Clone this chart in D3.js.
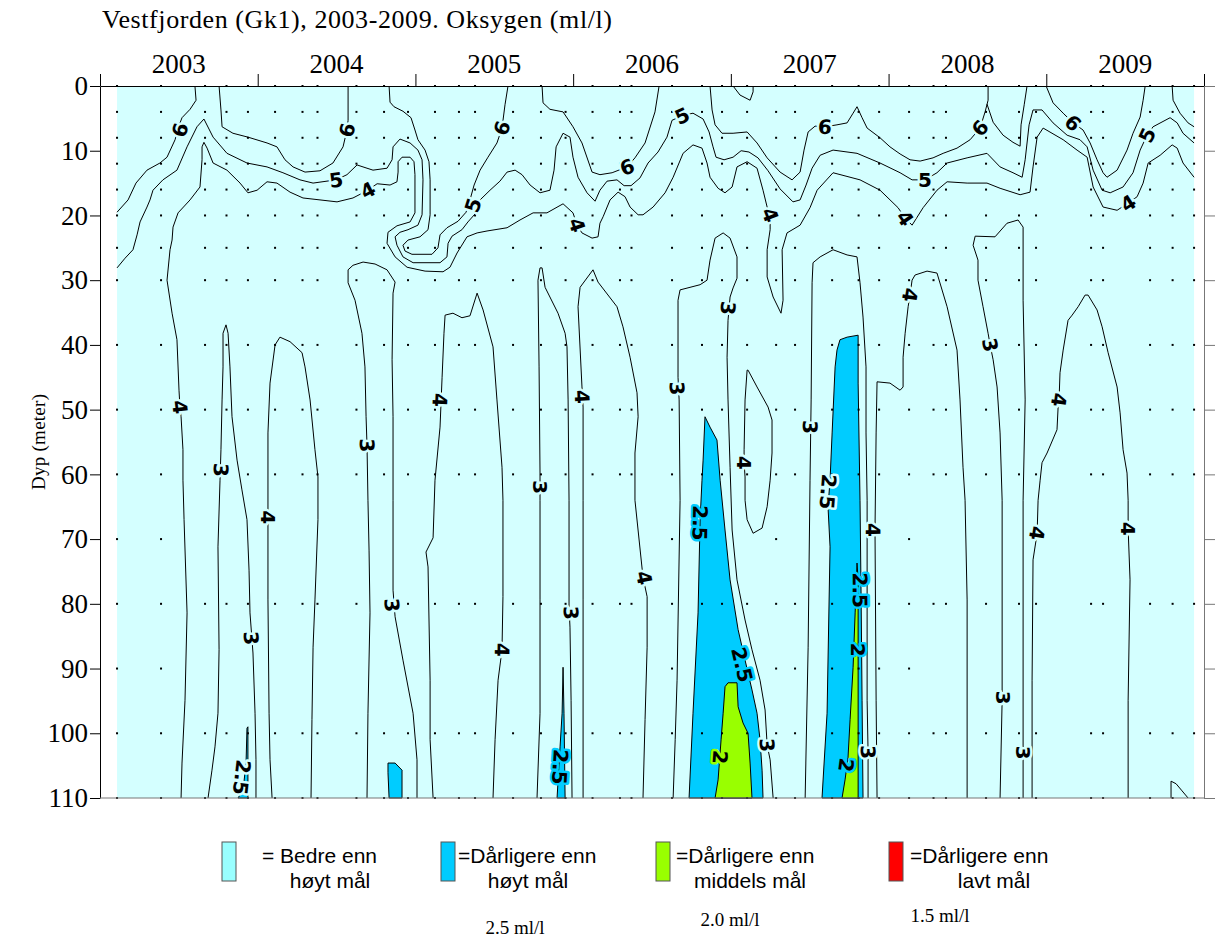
<!DOCTYPE html>
<html><head><meta charset="utf-8">
<script src="https://cdn.jsdelivr.net/npm/d3@7"></script>
<style>body{margin:0;background:#fff}</style>
</head><body>
<svg id="chart" width="1215" height="940"></svg>
<script>
// ---------------- DATA ----------------
const title = "Vestfjorden (Gk1), 2003-2009. Oksygen (ml/l)";
const yAxisTitle = "Dyp (meter)";
const yearLabels = [2003, 2004, 2005, 2006, 2007, 2008, 2009];
const yearBounds = [2003, 2004, 2005, 2006, 2007, 2008, 2009, 2010];
const depthTicks = [0, 10, 20, 30, 40, 50, 60, 70, 80, 90, 100, 110];

// sampling dates (decimal year) and depths (m)
const sampleDates = [2003.108, 2003.387, 2003.666, 2003.802, 2003.938, 2004.110, 2004.284, 2004.379,
  2004.626, 2004.801, 2004.953, 2005.124, 2005.276, 2005.378, 2005.619, 2005.796, 2005.952,
  2006.123, 2006.297, 2006.370, 2006.627, 2006.817, 2006.944, 2007.103, 2007.287, 2007.407,
  2007.642, 2007.810, 2007.940, 2008.130, 2008.285, 2008.364, 2008.618, 2008.827, 2008.935,
  2009.284, 2009.360, 2009.658, 2009.801, 2009.937];
const sampleDepths = [0, 4, 8, 12, 16, 20, 25, 30, 40, 50, 60, 80, 100, 110];
const datesWith70m = [2003.108, 2003.387, 2006.627, 2007.287, 2008.130];
const datesWith90m = [2003.108, 2003.387, 2006.627, 2007.287, 2007.407, 2007.642, 2007.810, 2007.940, 2008.130];

// isolines [year, depth]
const contour6 = [
  [[2003.602,0],[2003.609,2.2],[2003.571,3.6],[2003.520,4.9],[2003.495,6.5],[2003.476,8.3],[2003.425,11.0],[2003.380,11.9],[2003.298,13.0],[2003.228,15.0],[2003.178,17.6],[2003.108,19.5]],
  [[2003.755,0],[2003.767,3.7],[2003.774,6.3],[2003.843,7.3],[2003.938,7.9],[2004.059,8.8],[2004.122,9.4],[2004.173,11.4],[2004.224,12.5],[2004.300,13.3],[2004.395,13.1],[2004.477,11.9],[2004.541,9.4],[2004.566,6.8],[2004.573,5.3],[2004.573,0]],
  [[2004.833,0],[2004.839,2.5],[2004.864,3.2],[2004.921,3.9],[2004.972,4.9],[2004.997,6.8],[2005.016,8.3],[2005.061,9.9],[2005.086,11.7],[2005.093,14.5],[2005.093,19.9],[2005.080,22.2],[2005.029,23.3],[2004.953,23.8],[2004.921,24.6],[2004.934,25.5],[2004.978,26.0],[2005.105,26.0],[2005.143,25.0],[2005.156,23.0],[2005.200,21.9],[2005.270,20.9],[2005.321,19.5],[2005.346,17.6],[2005.372,15.3],[2005.410,13.0],[2005.460,11.0],[2005.517,8.8],[2005.549,6.5],[2005.568,2.9],[2005.587,0]],
  [[2005.803,0],[2005.809,2.6],[2005.853,3.6],[2005.936,4.0],[2005.999,6.3],[2006.056,8.8],[2006.120,13.3],[2006.170,13.7],[2006.247,13.4],[2006.342,12.5],[2006.392,11.1],[2006.456,8.8],[2006.519,4.0],[2006.545,0]],
  [[2007.014,0],[2007.058,1.4],[2007.122,2.2],[2007.141,0.9],[2007.141,0]],
  [[2006.868,0],[2006.881,3.7],[2006.900,6.0],[2006.944,7.3],[2007.014,7.3],[2007.103,7.1],[2007.166,8.8],[2007.230,11.1],[2007.312,13.3],[2007.388,14.5],[2007.439,13.3],[2007.464,9.9],[2007.490,7.1],[2007.534,6.2],[2007.597,6.3],[2007.673,6.0],[2007.737,5.7],[2007.775,4.2],[2007.800,3.2],[2007.832,4.9],[2007.864,6.5],[2007.946,8.0],[2008.009,9.4],[2008.073,10.5],[2008.136,11.4],[2008.200,11.6],[2008.282,11.1],[2008.346,10.4],[2008.434,9.6],[2008.517,8.3],[2008.580,6.5],[2008.612,4.0],[2008.631,2.2],[2008.631,0]],
  [[2008.624,2.8],[2008.663,5.6],[2008.726,7.6],[2008.789,8.7],[2008.834,9.3],[2008.840,6.0],[2008.860,2.9],[2008.878,0]],
  [[2008.999,0],[2009.043,2.6],[2009.107,4.2],[2009.170,5.7],[2009.233,6.8],[2009.278,8.8],[2009.322,11.4],[2009.360,13.4],[2009.385,14.1],[2009.449,13.0],[2009.512,9.9],[2009.550,7.3],[2009.595,4.8],[2009.614,2.2],[2009.627,0]],
  [[2009.798,0],[2009.804,2.2],[2009.848,4.2],[2009.899,5.7],[2009.937,6.3]]
];
const contour5 = [
  [[2003.108,28.1],[2003.159,26.6],[2003.209,25.3],[2003.235,23.0],[2003.254,21.0],[2003.298,18.7],[2003.317,17.6],[2003.336,16.1],[2003.399,14.5],[2003.488,13.0],[2003.552,9.4],[2003.615,6.3],[2003.659,5.1],[2003.717,7.9],[2003.805,10.4],[2003.932,11.9],[2004.059,12.5],[2004.160,13.4],[2004.268,14.5],[2004.351,15.0],[2004.497,14.5],[2004.566,13.7],[2004.630,12.2],[2004.693,12.7],[2004.731,13.0],[2004.820,12.7],[2004.852,11.4],[2004.858,9.4],[2004.902,8.2],[2004.966,8.8],[2005.016,9.9],[2005.042,11.4],[2005.048,14.5],[2005.042,19.9],[2005.016,21.5],[2004.953,22.2],[2004.902,22.6],[2004.871,23.3],[2004.883,24.6],[2004.921,26.4],[2004.985,27.3],[2005.156,27.3],[2005.200,26.4],[2005.207,24.3],[2005.232,23.2],[2005.295,22.2],[2005.333,21.0],[2005.384,19.6],[2005.410,17.6],[2005.473,16.1],[2005.536,14.7],[2005.581,13.3],[2005.632,13.0],[2005.676,13.7],[2005.727,15.3],[2005.790,16.5],[2005.853,16.1],[2005.879,13.0],[2005.892,9.4],[2005.936,7.3],[2005.980,7.9],[2005.999,11.0],[2006.031,14.1],[2006.088,16.5],[2006.139,17.8],[2006.170,16.1],[2006.215,14.7],[2006.278,14.5],[2006.323,15.4],[2006.367,15.4],[2006.424,14.2],[2006.475,11.9],[2006.538,10.2],[2006.595,7.9],[2006.627,5.3],[2006.691,4.6],[2006.760,4.2],[2006.824,5.1],[2006.862,7.1],[2006.887,9.4],[2006.906,11.0],[2006.957,11.4],[2007.014,11.0],[2007.065,10.0],[2007.115,10.2],[2007.172,11.1],[2007.236,13.1],[2007.312,15.9],[2007.394,17.9],[2007.439,17.6],[2007.477,15.3],[2007.515,12.7],[2007.566,10.7],[2007.648,9.9],[2007.800,10.4],[2007.946,11.9],[2008.073,13.4],[2008.149,14.5],[2008.231,14.5],[2008.307,13.4],[2008.371,11.9],[2008.498,11.1],[2008.624,10.4],[2008.707,12.5],[2008.789,13.4],[2008.847,14.1],[2008.866,11.4],[2008.891,6.0],[2008.916,3.7],[2008.973,3.7],[2009.043,5.7],[2009.132,7.6],[2009.214,8.3],[2009.259,9.4],[2009.297,13.0],[2009.354,16.1],[2009.405,16.5],[2009.487,15.6],[2009.550,13.4],[2009.595,9.9],[2009.639,7.6],[2009.677,6.3],[2009.785,4.9],[2009.830,5.7],[2009.867,7.3],[2009.937,8.8]]
];
const contour4 = [
  [[2003.514,110],[2003.520,104.6],[2003.539,94.9],[2003.552,81.4],[2003.533,67.0],[2003.526,60.9],[2003.526,56.2],[2003.514,51.1],[2003.507,49.6],[2003.501,47.0],[2003.488,39.2],[2003.457,35.1],[2003.425,30.0],[2003.444,25.3],[2003.457,23.8],[2003.463,21.8],[2003.495,19.6],[2003.571,17.6],[2003.634,15.6],[2003.647,11.4],[2003.647,9.4],[2003.659,8.7],[2003.679,9.6],[2003.717,11.9],[2003.805,13.0],[2003.888,15.0],[2003.938,16.5],[2003.996,16.1],[2004.059,14.8],[2004.122,15.0],[2004.205,16.4],[2004.287,17.3],[2004.395,17.6],[2004.503,17.9],[2004.604,17.3],[2004.699,16.1],[2004.757,15.1],[2004.839,15.3],[2004.883,14.8],[2004.890,13.3],[2004.890,11.7],[2004.915,11.0],[2004.966,11.0],[2004.991,11.7],[2004.997,13.7],[2004.997,19.6],[2004.966,21.0],[2004.883,21.6],[2004.826,22.6],[2004.820,24.3],[2004.871,26.4],[2004.947,28.0],[2005.061,28.6],[2005.175,28.7],[2005.219,28.0],[2005.264,25.8],[2005.327,23.3],[2005.391,22.7],[2005.454,22.4],[2005.581,21.9],[2005.663,20.7],[2005.746,19.6],[2005.834,19.6],[2005.936,18.2],[2005.999,19.6],[2006.025,21.5],[2006.056,22.7],[2006.120,23.5],[2006.158,23.3],[2006.170,21.2],[2006.190,20.2],[2006.234,17.6],[2006.285,16.4],[2006.329,17.1],[2006.361,18.7],[2006.412,19.9],[2006.443,19.9],[2006.507,18.7],[2006.583,16.5],[2006.634,14.1],[2006.697,10.4],[2006.760,9.1],[2006.817,9.6],[2006.849,11.9],[2006.868,14.1],[2006.919,15.8],[2006.963,16.5],[2007.008,15.6],[2007.039,12.5],[2007.103,11.7],[2007.166,12.7],[2007.204,16.1],[2007.230,18.7],[2007.249,19.9],[2007.249,22.2],[2007.230,25.3],[2007.230,29.5],[2007.268,32.6],[2007.318,35.1],[2007.331,33.1],[2007.325,25.3],[2007.356,22.7],[2007.439,21.5],[2007.502,18.8],[2007.547,16.1],[2007.648,13.4],[2007.819,14.5],[2007.946,16.1],[2008.060,18.8],[2008.105,20.4],[2008.149,21.5],[2008.219,18.8],[2008.307,16.1],[2008.371,14.8],[2008.498,15.0],[2008.624,15.0],[2008.707,15.8],[2008.834,16.8],[2008.897,16.4],[2008.916,12.5],[2008.942,7.9],[2008.980,6.5],[2009.107,8.3],[2009.195,9.9],[2009.259,11.0],[2009.297,15.6],[2009.360,18.7],[2009.449,19.2],[2009.519,18.1],[2009.576,17.1],[2009.614,15.0],[2009.646,11.9],[2009.722,10.7],[2009.798,9.1],[2009.830,9.6],[2009.867,11.9],[2009.937,14.1]],
  [[2004.091,110],[2004.078,104.1],[2004.072,96.9],[2004.065,79.4],[2004.065,66.6],[2004.065,53.6],[2004.078,45.9],[2004.110,40.0],[2004.141,38.8],[2004.205,39.5],[2004.281,41.2],[2004.300,43.4],[2004.332,48.5],[2004.363,56.2],[2004.382,60.4],[2004.382,67.0],[2004.363,79.4],[2004.351,86.7],[2004.344,97.9],[2004.338,110]],
  [[2005.112,110],[2005.093,101.0],[2005.093,91.8],[2005.080,74.3],[2005.067,72.0],[2005.112,69.8],[2005.124,60.9],[2005.156,52.7],[2005.169,45.0],[2005.181,38.2],[2005.188,35.4],[2005.238,35.1],[2005.295,35.8],[2005.346,35.5],[2005.391,32.0],[2005.429,34.6],[2005.492,40.3],[2005.517,48.5],[2005.549,58.9],[2005.555,64.0],[2005.555,78.9],[2005.549,87.1],[2005.524,91.8],[2005.505,101.0],[2005.492,110]],
  [[2006.063,110],[2006.063,79.4],[2006.063,64.0],[2006.063,49.6],[2006.056,46.5],[2006.031,34.1],[2006.044,31.1],[2006.126,28.4],[2006.158,30.3],[2006.278,34.1],[2006.316,37.2],[2006.361,41.9],[2006.405,47.4],[2006.412,51.1],[2006.392,56.7],[2006.392,64.0],[2006.443,75.9],[2006.469,78.9],[2006.469,86.7],[2006.456,97.9],[2006.443,110]],
  [[2007.103,43.9],[2007.090,48.5],[2007.084,56.2],[2007.084,58.2],[2007.090,60.4],[2007.090,64.0],[2007.103,67.0],[2007.141,69.1],[2007.198,68.3],[2007.230,65.0],[2007.249,60.9],[2007.261,56.7],[2007.261,51.6],[2007.236,49.6],[2007.166,46.5],[2007.109,43.9],[2007.103,43.9]],
  [[2007.927,110],[2007.921,94.9],[2007.914,68.6],[2007.921,53.6],[2007.927,45.7],[2008.009,45.9],[2008.073,47.0],[2008.092,46.5],[2008.092,41.9],[2008.105,38.2],[2008.124,34.1],[2008.136,32.3],[2008.149,30.0],[2008.168,29.2],[2008.244,28.6],[2008.307,28.9],[2008.371,34.1],[2008.434,40.8],[2008.453,48.5],[2008.472,58.9],[2008.485,64.0],[2008.498,79.4],[2008.498,110]],
  [[2008.910,110],[2008.910,91.8],[2008.916,73.2],[2008.942,69.1],[2008.948,64.0],[2008.961,60.9],[2008.973,58.2],[2009.005,56.7],[2009.068,53.1],[2009.075,49.6],[2009.081,48.5],[2009.087,44.3],[2009.107,40.8],[2009.138,36.2],[2009.164,35.4],[2009.202,34.1],[2009.246,32.3],[2009.265,32.3],[2009.322,34.6],[2009.354,37.2],[2009.392,41.2],[2009.449,46.5],[2009.468,50.5],[2009.487,56.2],[2009.512,59.8],[2009.519,64.0],[2009.519,68.4],[2009.531,76.3],[2009.519,94.9],[2009.519,110]],
  [[2009.791,110],[2009.791,107.4],[2009.823,107.8],[2009.861,108.9],[2009.899,110]]
];
const contour3 = [
  [[2003.685,110],[2003.710,105.7],[2003.729,102.1],[2003.748,96.9],[2003.755,87.1],[2003.748,71.2],[2003.761,60.9],[2003.767,56.2],[2003.774,48.5],[2003.780,43.4],[2003.780,38.2],[2003.799,36.9],[2003.812,38.2],[2003.824,43.4],[2003.837,51.1],[2003.869,57.8],[2003.900,62.4],[2003.932,67.0],[2003.945,74.8],[2003.951,81.4],[2003.970,87.6],[2003.983,96.9],[2003.989,104.1],[2003.989,110]],
  [[2004.693,110],[2004.699,96.9],[2004.712,81.4],[2004.706,71.7],[2004.699,64.0],[2004.693,55.5],[2004.687,51.1],[2004.680,43.4],[2004.661,38.2],[2004.617,33.1],[2004.573,30.4],[2004.573,28.4],[2004.604,27.7],[2004.668,27.2],[2004.744,27.5],[2004.820,28.4],[2004.871,30.3],[2004.858,32.0],[2004.852,42.3],[2004.858,51.1],[2004.858,64.0],[2004.858,77.9],[2004.871,82.0],[2004.921,88.7],[2004.985,96.9],[2005.010,104.1],[2005.010,110]],
  [[2005.771,110],[2005.790,96.9],[2005.790,79.4],[2005.790,64.0],[2005.790,59.8],[2005.784,43.4],[2005.777,30.0],[2005.790,28.1],[2005.803,28.1],[2005.822,31.1],[2005.904,35.1],[2005.949,38.2],[2005.961,40.3],[2005.968,48.5],[2005.974,64.0],[2005.974,80.5],[2005.980,83.6],[2005.987,94.9],[2005.993,110]],
  [[2006.634,110],[2006.647,101.0],[2006.659,91.8],[2006.678,64.0],[2006.672,48.5],[2006.665,45.0],[2006.665,33.1],[2006.678,31.5],[2006.805,30.7],[2006.849,30.0],[2006.868,26.9],[2006.900,23.5],[2006.951,22.7],[2006.995,23.5],[2007.039,26.4],[2007.039,29.7],[2007.014,31.2],[2006.995,32.6],[2006.982,36.2],[2006.976,41.9],[2006.982,48.5],[2006.995,58.9],[2007.008,68.6],[2007.039,76.3],[2007.090,82.5],[2007.134,87.1],[2007.185,91.8],[2007.217,96.4],[2007.230,101.8],[2007.249,104.1],[2007.268,110]],
  [[2007.471,110],[2007.490,86.7],[2007.502,60.9],[2007.509,48.5],[2007.515,30.4],[2007.521,27.3],[2007.566,26.4],[2007.648,25.3],[2007.737,26.1],[2007.800,26.4],[2007.819,30.4],[2007.838,35.7],[2007.857,43.4],[2007.857,53.6],[2007.864,64.0],[2007.864,94.9],[2007.870,102.9],[2007.870,110]],
  [[2008.707,110],[2008.720,94.9],[2008.720,64.0],[2008.707,53.6],[2008.688,46.5],[2008.663,42.3],[2008.644,40.0],[2008.631,38.2],[2008.599,34.1],[2008.567,30.0],[2008.567,26.9],[2008.536,24.6],[2008.549,23.2],[2008.675,23.3],[2008.751,21.2],[2008.821,20.7],[2008.853,21.8],[2008.853,33.1],[2008.866,48.5],[2008.853,64.0],[2008.853,103.0],[2008.853,110]]
];
// areas below 2.5 ml/l and below 2.0 ml/l
const below25 = [
  [[2003.932,99.2],[2003.938,99.0],[2003.938,110],[2003.875,110],[2003.907,108.8],[2003.926,104.6]],
  [[2004.826,104.6],[2004.871,104.6],[2004.915,105.7],[2004.915,110],[2004.833,110],[2004.826,106.1]],
  [[2005.936,89.8],[2005.942,96.9],[2005.949,110],[2005.898,110],[2005.917,102.1],[2005.930,96.9]],
  [[2006.836,51.1],[2006.868,52.7],[2006.912,54.7],[2006.932,60.9],[2006.963,68.6],[2006.995,76.3],[2007.046,84.0],[2007.090,88.7],[2007.134,93.3],[2007.166,96.9],[2007.185,101.0],[2007.198,105.7],[2007.204,110],[2006.735,110],[2006.760,96.9],[2006.792,81.4],[2006.805,67.0],[2006.817,60.9],[2006.824,57.8]],
  [[2007.692,39.2],[2007.737,38.8],[2007.807,38.5],[2007.807,45.9],[2007.819,64.0],[2007.826,79.4],[2007.832,94.9],[2007.838,110],[2007.578,110],[2007.610,96.9],[2007.629,71.2],[2007.616,65.0],[2007.629,60.9],[2007.642,53.6],[2007.661,43.4],[2007.673,40.8]]
];
const below20 = [
  [[2006.963,92.8],[2006.982,92.2],[2007.039,92.2],[2007.046,95.9],[2007.077,98.4],[2007.109,100.0],[2007.122,104.6],[2007.134,110],[2006.900,110],[2006.919,107.2],[2006.938,101.0],[2006.951,96.9]],
  [[2007.800,73.7],[2007.807,76.3],[2007.807,110],[2007.705,110],[2007.724,107.2],[2007.743,103.7],[2007.756,97.9],[2007.775,89.8],[2007.788,81.4]]
];
// contour labels [text, year, depth]
const contourLabels = [
  ["6",2003.507,6.8],["6",2004.566,6.8],["6",2005.549,6.5],["6",2006.342,12.5],["6",2007.597,6.3],["6",2008.580,6.5],["6",2009.170,5.7],
  ["5",2004.497,14.5],["5",2005.365,18.4],["5",2006.691,4.6],["5",2008.231,14.5],["5",2009.639,7.6],
  ["4",2004.699,16.1],["4",2006.025,21.5],["4",2007.249,19.9],["4",2008.105,20.4],["4",2009.519,18.1],
  ["4",2003.507,49.6],["4",2004.065,66.6],["4",2005.156,48.5],["4",2005.549,87.1],["4",2006.056,48.0],
  ["4",2006.450,76.0],["4",2007.084,58.2],["4",2007.902,68.6],["4",2008.136,32.3],["4",2008.942,69.1],
  ["4",2009.081,48.5],["4",2009.519,68.4],
  ["3",2003.767,59.3],["3",2003.958,85.3],["3",2004.693,55.5],["3",2004.852,80.2],["3",2005.790,62.0],
  ["3",2005.987,81.4],["3",2006.659,46.7],["3",2006.982,34.3],["3",2007.230,101.8],["3",2007.502,52.7],
  ["3",2007.870,102.9],["3",2008.644,40.0],["3",2008.726,94.5],["3",2008.853,103.0],
  ["2.5",2003.900,106.8],["2.5",2005.917,105.2],["2.5",2006.805,67.5],["2.5",2007.071,89.4],["2.5",2007.616,62.7],["2.5",2007.819,77.9],
  ["2",2006.932,103.7],["2",2007.807,87.1],["2",2007.731,104.9]
];
// legend
const legendColors = ["#99ffff", "#00ccff", "#99ff00", "#ff0000"];
const legendLine1 = ["= Bedre enn", "=Dårligere enn", "=Dårligere enn", "=Dårligere enn"];
const legendLine2 = ["høyt mål", "høyt mål", "middels mål", "lavt mål"];
const legendLimits = ["", "2.5 ml/l", "2.0 ml/l", "1.5 ml/l"];

// ---------------- DRAW ----------------
const svg = d3.select("#chart");
const serif = "'Liberation Serif','Times New Roman',serif";
const sans = "'Liberation Sans',Arial,sans-serif";
const x = d3.scaleLinear().domain([2003, 2010]).range([100, 1204]);
const y = d3.scaleLinear().domain([0, 110]).range([86, 798]);
const line = d3.line().x(d => x(d[0])).y(d => y(d[1]));
const cyan = "#d4ffff", blue = "#00ccff", green = "#99ff00";

svg.append("text").attr("x", 102).attr("y", 28).attr("font-family", serif)
  .attr("font-size", 26).attr("textLength", 510).text(title);

// background field (sampled period)
svg.append("rect")
  .attr("x", x(sampleDates[0])).attr("y", y(0))
  .attr("width", x(sampleDates[sampleDates.length - 1]) - x(sampleDates[0]))
  .attr("height", y(110) - y(0)).attr("fill", cyan);

// filled areas
svg.append("g").selectAll("path").data(below25).join("path")
  .attr("d", d => line(d) + "Z").attr("fill", blue).attr("stroke", "#000").attr("stroke-width", 1);
svg.append("g").selectAll("path").data(below20).join("path")
  .attr("d", d => line(d) + "Z").attr("fill", green).attr("stroke", "#000").attr("stroke-width", 1);

// sample dots
const dots = [];
sampleDates.forEach(t => {
  let ds = sampleDepths.slice();
  if (datesWith70m.includes(t)) ds.push(70);
  if (datesWith90m.includes(t)) ds.push(90);
  ds.forEach(d => dots.push([t, d]));
});
svg.append("g").selectAll("rect").data(dots).join("rect")
  .attr("x", d => x(d[0]) - 1).attr("y", d => y(d[1]) - 1)
  .attr("width", 2).attr("height", 2).attr("fill", "#000");

// contour lines
const allLines = [].concat(contour6, contour5, contour4, contour3);
svg.append("g").selectAll("path").data(allLines).join("path")
  .attr("d", line).attr("fill", "none").attr("stroke", "#000").attr("stroke-width", 1)
  .attr("stroke-linejoin", "round");

// axes
const gTop = svg.append("g").attr("transform", `translate(0,${y(0)})`)
  .call(d3.axisTop(x).tickValues(yearBounds).tickSize(12).tickSizeOuter(0).tickFormat(""));
gTop.selectAll("path,line").attr("stroke", "#000");
svg.append("g").selectAll("text").data(yearLabels).join("text")
  .attr("x", d => x(d + 0.5)).attr("y", 73).attr("text-anchor", "middle")
  .attr("font-family", serif).attr("font-size", 27).text(d => d);

const gLeft = svg.append("g").attr("transform", `translate(${x(2003)},0)`)
  .call(d3.axisLeft(y).tickValues(depthTicks).tickSize(10).tickSizeOuter(0).tickPadding(2));
gLeft.selectAll("text").attr("font-family", serif).attr("font-size", 27).attr("fill", "#000");
gLeft.selectAll("path,line").attr("stroke", "#000");

const gRight = svg.append("g").attr("transform", `translate(${x(2010)},0)`)
  .call(d3.axisRight(y).tickValues(depthTicks).tickSize(11).tickSizeOuter(0).tickFormat(""));
gRight.selectAll("path,line").attr("stroke", "#777");

svg.append("line").attr("x1", x(2003)).attr("x2", x(2010)).attr("y1", y(110)).attr("y2", y(110))
  .attr("stroke", "#777");

svg.append("text").attr("transform", `translate(45,${(y(0) + y(110)) / 2}) rotate(-90)`)
  .attr("text-anchor", "middle").attr("font-family", serif).attr("font-size", 19)
  .attr("textLength", 96).text(yAxisTitle);

// contour labels, oriented along nearest line segment
const segs = [];
allLines.concat(below25, below20).forEach(pts => {
  const s = pts.map(p => [x(p[0]), y(p[1])]);
  for (let i = 0; i < s.length - 1; i++) segs.push([s[i], s[i + 1]]);
});
function segDist(p, a, b) {
  const dx = b[0] - a[0], dy = b[1] - a[1];
  const L = dx * dx + dy * dy || 1;
  let t = ((p[0] - a[0]) * dx + (p[1] - a[1]) * dy) / L;
  t = Math.max(0, Math.min(1, t));
  return Math.hypot(p[0] - (a[0] + t * dx), p[1] - (a[1] + t * dy));
}
function angleAt(p) {
  let best = null, bd = 1e9;
  segs.forEach(s => { const d = segDist(p, s[0], s[1]); if (d < bd) { bd = d; best = s; } });
  let a = Math.atan2(best[1][1] - best[0][1], best[1][0] - best[0][0]) * 180 / Math.PI;
  while (a > 100) a -= 180;
  while (a <= -80) a += 180;
  return a;
}
const polys20 = below20.map(p => p.map(q => [x(q[0]), y(q[1])]));
const polys25 = below25.map(p => p.map(q => [x(q[0]), y(q[1])]));
function bgAt(p) {
  if (polys20.some(pl => d3.polygonContains(pl, p))) return green;
  if (polys25.some(pl => d3.polygonContains(pl, p))) return blue;
  return cyan;
}
svg.append("g").selectAll("text").data(contourLabels).join("text")
  .attr("transform", d => {
    const p = [x(d[1]), y(d[2])];
    return `translate(${p[0]},${p[1]}) rotate(${angleAt(p)})`;
  })
  .attr("text-anchor", "middle").attr("dy", "0.36em")
  .attr("font-family", "'DejaVu Sans',sans-serif").attr("font-size", 20).attr("font-weight", "bold")
  .attr("fill", "#000")
  .attr("stroke", d => bgAt([x(d[1]), y(d[2])])).attr("stroke-width", 5)
  .attr("stroke-linejoin", "round").style("paint-order", "stroke")
  .text(d => d[0]);

// legend
const legX = [222, 441, 656, 889];
const legText1X = [262, 458, 676, 910];
const legText2X = [330, 528, 750, 994];
const legLimX = [0, 515, 730, 940];
const legLimY = [0, 934, 926, 922];
const lg = svg.append("g");
legendColors.forEach((c, i) => {
  lg.append("rect").attr("x", legX[i]).attr("y", 842).attr("width", 14).attr("height", 39)
    .attr("fill", c).attr("stroke", "#555").attr("stroke-width", 1);
  lg.append("text").attr("x", legText1X[i]).attr("y", 863).attr("font-family", sans)
    .attr("font-size", 21).text(legendLine1[i]);
  lg.append("text").attr("x", legText2X[i]).attr("y", 888).attr("text-anchor", "middle")
    .attr("font-family", sans).attr("font-size", 21).text(legendLine2[i]);
  if (legendLimits[i]) lg.append("text").attr("x", legLimX[i]).attr("y", legLimY[i])
    .attr("text-anchor", "middle").attr("font-family", serif).attr("font-size", 19).text(legendLimits[i]);
});
</script>
</body></html>
